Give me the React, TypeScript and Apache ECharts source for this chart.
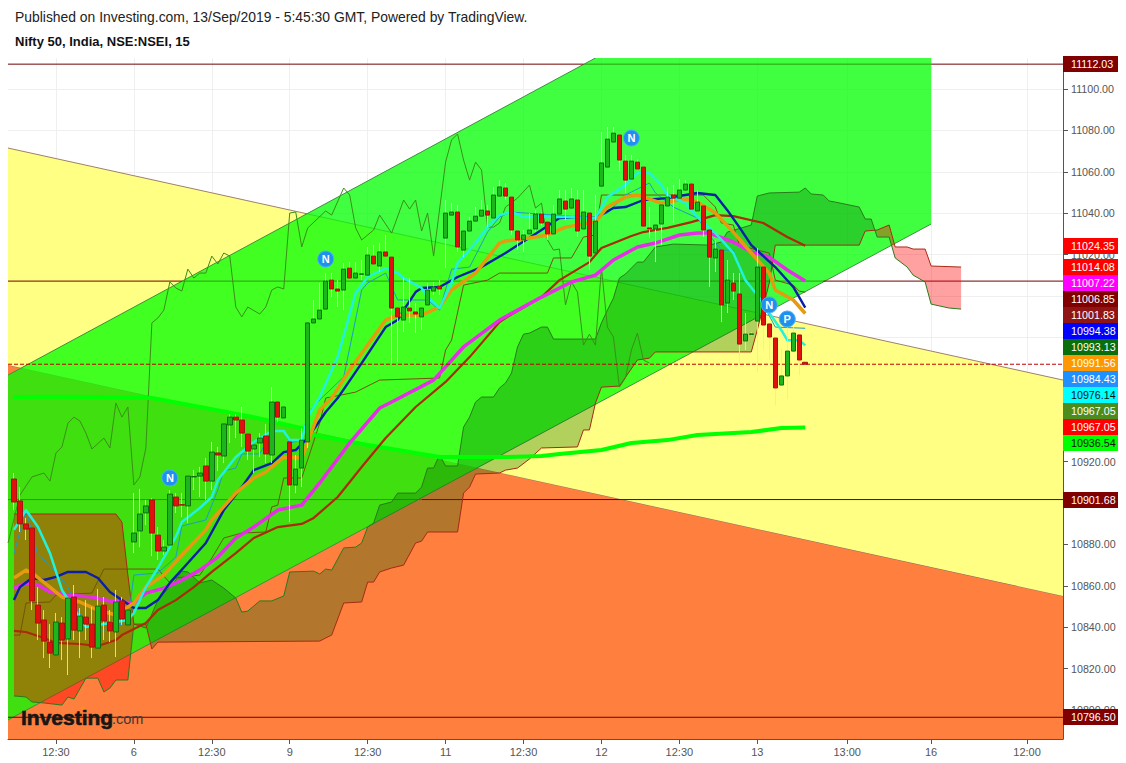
import React, { useEffect, useRef } from "react";
import * as echarts from "echarts";

type P = [number, number];

const headerLine = "Published on Investing.com, 13/Sep/2019 - 5:45:30 GMT, Powered by TradingView.";
const symbolLine = "Nifty 50, India, NSE:NSEI, 15";

const barCount = 177;
const timeLabels: Record<number, string> = {
  8: "12:30", 21: "6", 34: "12:30", 47: "9", 60: "12:30", 73: "11", 86: "12:30",
  99: "12", 112: "12:30", 125: "13", 140: "13:00", 154: "16", 170: "12:00",
};
const priceTicks = [10800, 10820, 10840, 10860, 10880, 10900, 10920, 10940, 10960, 10980, 11000, 11020, 11040, 11060, 11080, 11100];
const priceLabels = [10800, 10820, 10840, 10860, 10880, 10920, 11020, 11040, 11060, 11080, 11100];

// open, close, low, high for consecutive 15-minute bars
const ohlc: number[][] = [
  [10911.6,10900.5,10896.6,10914.5],[10901.0,10889.9,10886.0,10907.7],[10889.9,10887.4,10882.1,10892.8],[10887.9,10852.7,10848.3,10887.9],
  [10850.7,10842.0,10833.8,10859.4],[10843.5,10833.3,10825.1,10848.3],[10832.8,10827.5,10820.3,10841.5],[10826.6,10842.5,10826.6,10846.9],
  [10842.0,10833.8,10824.1,10844.9],[10834.3,10854.1,10816.9,10854.1],[10854.6,10838.6,10833.8,10860.4],[10838.2,10845.4,10825.1,10849.3],
  [10844.9,10841.5,10833.8,10853.1],[10841.5,10830.4,10825.1,10849.8],[10829.9,10850.2,10829.9,10858.5],[10850.7,10843.0,10833.8,10854.6],
  [10842.5,10838.2,10832.8,10848.3],[10837.7,10852.2,10825.6,10858.0],[10852.7,10844.0,10841.1,10854.6],[10841.1,10848.3,10841.1,10848.3],
  [10881.2,10885.5,10875.8,10904.8],[10886.5,10894.7,10878.7,10906.8],[10895.2,10898.6,10889.4,10901.5],[10901.5,10885.5,10874.4,10902.4],
  [10884.5,10876.8,10872.5,10888.4],[10876.8,10878.7,10874.9,10882.1],[10879.7,10904.3,10879.7,10906.3],[10902.9,10898.6,10895.2,10904.8],
  [10899.2,10899.0,10893.2,10904.8],[10898.6,10913.0,10890.3,10913.0],[10912.6,10912.8,10906.3,10916.0],[10913.0,10914.5,10902.9,10917.4],
  [10917.9,10910.6,10901.5,10921.7],[10910.6,10924.6,10906.3,10929.5],[10924.2,10923.2,10915.5,10927.1],[10922.7,10938.2,10919.3,10938.2],
  [10937.7,10941.5,10929.0,10943.0],[10941.5,10940.1,10931.4,10943.0],[10940.1,10933.8,10927.1,10946.4],[10933.3,10925.1,10920.8,10933.3],
  [10926.1,10928.0,10914.5,10928.0],[10929.0,10931.4,10922.2,10933.8],[10932.4,10923.7,10919.3,10938.2],[10923.2,10948.8,10919.3,10956.0],
  [10948.8,10941.5,10939.1,10948.8],[10941.1,10946.4,10941.1,10946.4],[10929.5,10908.7,10890.8,10929.5],[10908.7,10916.4,10904.8,10923.2],
  [10916.9,10930.4,10907.7,10936.2],[10929.5,10987.0,10926.6,10987.0],[10987.0,10988.9,10987.0,10998.1],[10988.9,10993.2,10988.9,11006.3],
  [10993.7,11007.2,10993.7,11011.1],[11007.7,11003.4,10999.5,11011.1],[11003.4,11002.4,10994.7,11007.7],[11002.9,11013.0,10993.2,11015.9],
  [11013.5,11008.7,11008.7,11016.4],[11008.7,11011.1,11008.7,11016.4],[11010.5,11010.7,11007.7,11017.4],[11010.1,11019.8,11010.1,11023.7],
  [11019.3,11015.5,11015.5,11024.6],[11014.5,11021.3,11011.6,11025.6],[11021.3,11019.3,11019.3,11029.5],[11018.8,10994.2,10967.6,11018.8],
  [10994.2,10989.9,10968.1,10994.2],[10988.4,10994.7,10982.6,11008.7],[10994.2,10992.8,10987.0,11008.7],[10992.3,10991.3,10982.1,10996.6],
  [10989.9,10994.2,10983.6,10994.2],[10995.7,11002.9,10995.7,11006.3],[11002.4,11004.4,11000.5,11006.8],[11004.8,11003.4,11000.5,11007.7],
  [11028.0,11040.1,11013.5,11046.4],[11039.1,11040.6,11039.1,11044.9],[11040.6,11023.7,11021.3,11044.0],[11022.2,11031.4,11018.8,11031.4],
  [11031.4,11036.2,11031.4,11038.2],[11036.2,11038.6,11036.2,11043.0],[11038.6,11041.5,11038.6,11046.4],[11041.1,11039.1,11033.3,11044.0],
  [11037.7,11048.8,11037.7,11052.7],[11048.3,11052.7,11048.3,11056.0],[11052.2,11048.3,11046.4,11054.6],[11047.8,11031.9,11029.5,11047.8],
  [11031.4,11027.1,11022.2,11031.4],[11027.1,11029.5,11021.3,11031.9],[11030.0,11031.9,11030.0,11040.1],[11032.4,11039.6,11030.9,11041.5],
  [11039.6,11035.3,11033.8,11040.6],[11035.7,11030.0,11027.1,11035.7],[11030.0,11039.6,11030.0,11044.0],[11039.6,11046.9,11039.6,11051.2],
  [11045.9,11042.0,11036.7,11051.2],[11042.5,11046.9,11042.5,11052.2],[11046.4,11031.4,11028.5,11051.2],[11032.4,11040.6,11032.4,11051.2],
  [11040.1,11019.3,11012.6,11040.1],[11020.8,11036.2,11020.8,11048.8],[11053.1,11064.3,11053.1,11079.2],[11062.3,11075.8,11062.3,11081.6],
  [11074.4,11078.7,11074.4,11081.6],[11077.8,11065.7,11060.4,11077.8],[11065.2,11056.0,11049.8,11068.1],[11056.5,11065.2,11056.5,11068.1],
  [11064.7,11061.4,11061.4,11066.0],[11062.3,11033.8,11033.8,11062.3],[11032.9,11032.4,11028.0,11043.0],[11032.4,11034.3,11016.4,11034.3],
  [11034.8,11044.0,11024.6,11044.0],[11043.5,11047.8,11043.5,11052.7],[11048.8,11047.3,11035.3,11053.6],[11047.3,11051.2,11047.3,11056.5],
  [11051.2,11054.1,11051.2,11056.0],[11054.1,11042.0,11042.0,11054.1],[11041.1,11045.4,11041.1,11051.2],[11043.5,11031.9,11028.5,11043.5],
  [11031.9,11018.8,11004.4,11031.9],[11018.4,11022.7,11011.6,11027.1],[11022.2,10995.7,10987.4,11022.2],[10996.6,11007.7,10991.8,11017.4],
  [11006.3,11002.4,10998.1,11011.1],[11001.0,10976.8,10966.7,11011.1],[10978.3,10981.6,10973.9,10991.8],[10981.5,10981.7,10981.0,10982.5],
  [10987.9,11014.0,10963.3,11023.2],[11014.0,10986.0,10973.9,11014.0],[10986.5,10980.2,10969.1,10986.5],[10979.7,10955.6,10947.3,10979.7],
  [10957.0,10961.4,10957.0,10974.9],[10961.4,10973.4,10950.2,10985.0],[10973.4,10982.1,10973.4,10985.0],[10981.2,10969.1,10961.8,10981.2],
  [10968.0,10967.05,10967.05,10968.0],
];

// each line: [bar index, price]
const cyanEma: P[] = [[1,10887],[3,10896.6],[5,10888.4],[7,10875.8],[9,10858],[13,10840.1],[17,10842],[20,10843.5],[21,10846.9],[23,10859.4],[25,10868.6],[28,10883.6],[29,10890.8],[32,10897.6],[34,10902.9],[35,10911.1],[38,10922.2],[41,10929.5],[44,10934.8],[46,10934.8],[47,10930.4],[49,10930.4],[50,10941.5],[52,10951.2],[55,10970.5],[58,11001.5],[60,11009.2],[63,11013.5],[65,11011.1],[66,11008.7],[69,11003.9],[70,10999.5],[72,10994.2],[74,11006.3],[75,11015.9],[78,11025.6],[80,11033.3],[82,11039.1],[84,11040.6],[86,11038.2],[90,11038.2],[93,11038.2],[98,11037.7],[100,11047.8],[103,11053.6],[105,11059.4],[107,11059.4],[109,11053.6],[110,11048.8],[113,11044.9],[115,11038.2],[118,11030.4],[121,11020.8],[123,11007.7],[125,11000.5],[127,10991.8],[129,10983.6],[130,10978.7],[132,10978.7],[133,10976.14]];
const tealTenkan: P[] = [[1,10875.8],[3,10896.6],[5,10874.9],[7,10870],[10,10859.4],[13,10840.1],[16,10838.6],[20,10842.5],[21,10865.2],[25,10866.2],[28,10873.9],[29,10888.9],[33,10891.8],[35,10906.3],[36,10915.5],[38,10916.9],[39,10923.7],[42,10923.7],[44,10934.8],[46,10934.8],[47,10929],[49,10930.4],[50,10943.5],[52,10949.8],[56,10960.9],[59,11002.9],[60,11006.3],[63,11011.1],[65,10998.1],[70,10998.1],[72,10993.2],[74,11013],[77,11014],[80,11030.9],[82,11038.2],[84,11040.6],[98,11037.7],[100,11040.1],[103,11048.8],[107,11054.6],[108,11049.8],[111,11043],[115,11037.7],[118,11025.6],[119,11022.2],[121,11022.2],[123,11007.7],[125,11001.5],[128,10985],[133,10984.43]];
const orangeEma: P[] = [[1,10863.8],[3,10867.6],[4,10866.2],[7,10859.4],[9,10854.6],[12,10852.2],[15,10848.3],[18,10845.9],[21,10851.7],[23,10859.4],[26,10865.2],[29,10874.9],[33,10887],[34,10891.8],[38,10904.8],[41,10912.1],[43,10915],[46,10922.2],[49,10921.7],[52,10944.9],[54,10950.7],[57,10964.3],[63,10988.4],[65,10990.8],[69,10990.8],[72,10994.7],[74,11002.9],[78,11011.1],[82,11025.6],[83,11026.6],[87,11028],[90,11029.5],[93,11033.3],[98,11035.7],[100,11043],[103,11047.8],[105,11048.8],[109,11044.9],[113,11046.9],[115,11045.4],[118,11040.1],[121,11030.9],[124,11020.8],[127,11011.1],[128,11002.9],[131,10998.1],[133,10991.56]];
const blueEma: P[] = [[1,10853.1],[2,10859.4],[4,10863.8],[6,10862.8],[8,10864.3],[10,10866.7],[13,10866.7],[15,10863.8],[17,10857],[19,10853.1],[21,10849.3],[23,10849.3],[25,10853.1],[27,10861.4],[30,10871],[33,10880.7],[36,10896.6],[39,10907.7],[41,10915.9],[44,10919.3],[46,10924.6],[48,10925.6],[50,10931.4],[53,10944],[55,10950.7],[59,10967.6],[63,10985],[65,10988.4],[66,10993.2],[68,11001.9],[69,11003.9],[72,11004.4],[75,11009.2],[79,11014],[83,11020.8],[89,11031.9],[92,11037.7],[95,11038.2],[98,11037.7],[101,11042.5],[103,11043],[106,11046.4],[110,11047.3],[113,11048.8],[115,11049.8],[118,11048.8],[120,11041.5],[122,11033.3],[124,11024.6],[128,11014],[131,11004.4],[133,10994.38]];
const magentaEma: P[] = [[1,10858.9],[3,10861.4],[5,10860.4],[7,10857],[10,10855.6],[14,10854.6],[17,10852.7],[21,10851.7],[23,10856.5],[26,10858.9],[29,10862.8],[32,10867.6],[35,10873.9],[38,10883.1],[41,10888.4],[45,10896.6],[49,10899],[52,10909.7],[57,10929],[62,10945.9],[64,10948.8],[71,10959.4],[76,10975.4],[82,10988.4],[85,10993.2],[89,10999.5],[94,11006.8],[98,11010.1],[101,11017.4],[105,11023.7],[108,11025.6],[112,11029.5],[115,11030.4],[117,11030.4],[121,11026.1],[124,11021.3],[127,11018.8],[130,11012.6],[133,11007.22]];
const redEma: P[] = [[1,10838.2],[3,10837.7],[6,10834.8],[8,10832.4],[12,10831.9],[15,10830.9],[18,10833.8],[19,10836.2],[23,10842],[25,10848.3],[28,10853.1],[31,10859.4],[34,10866.7],[38,10875.8],[41,10883.1],[45,10888.4],[49,10889.9],[51,10892.8],[55,10902.9],[59,10917.4],[63,10931.4],[68,10946.4],[73,10958.5],[77,10970.5],[82,10987.4],[83,10989.4],[89,10999.5],[92,11007.7],[97,11016.4],[99,11023.2],[104,11029],[106,11030.9],[110,11032.9],[114,11035.7],[118,11039.1],[121,11038.6],[126,11035.3],[130,11028.5],[133,11024.35]];
const greenSma: P[] = [[1,10951.2],[7,10951.4],[16,10951.2],[24,10950.7],[32,10946.4],[41,10941.5],[49,10936.2],[51,10932.9],[60,10928],[65,10925.6],[72,10922.2],[77,10922.2],[83,10922.2],[89,10922.7],[92,10923.7],[99,10925.6],[104,10929],[110,10930.4],[115,10932.9],[124,10934.3],[129,10936.2],[133,10936.54]];
const kijun: P[] = [[1,10836.2],[2,10836.2],[3,10851.7],[7,10852.2],[8,10855.6],[14,10856.5],[16,10868.1],[25,10868.1],[27,10861.4],[28,10863.8],[32,10865.2],[34,10873.4],[36,10883.1],[39,10885.5],[43,10886],[44,10898.1],[45,10899],[46,10912.1],[49,10912.1],[52,10938.6],[53,10950.7],[58,10953.6],[62,10959.4],[72,10960.4],[73,10973.9],[74,10978.7],[76,11005.3],[80,11007.7],[82,11011.1],[90,11011.1],[91,11018.4],[94,11018.4],[96,11028.5],[98,11029.5],[99,11048.8],[116,11048.8],[118,11043],[119,11035.3],[121,11034.3],[122,11024.6],[125,11022.2],[127,11020.8],[128,11007.7],[131,11005.3],[132,11002.4],[133,11001.83]];
const chikou: P[] = [[0,10880.7],[2,10903.9],[4,10912.6],[6,10914.5],[7,10910.6],[8,10924.2],[9,10927.1],[10,10938.6],[11,10941.5],[12,10939.6],[13,10933.8],[14,10926.1],[16,10931.4],[17,10926.6],[18,10948.3],[19,10941.5],[20,10946.4],[21,10908.7],[22,10912.6],[23,10926.6],[24,10987],[25,10989.4],[26,10993.2],[27,11006.8],[28,11003.9],[29,11002.4],[30,11013],[31,11008.7],[32,11011.1],[33,11011.1],[34,11019.3],[35,11015.5],[36,11020.8],[37,11019.3],[38,10994.7],[39,10989.9],[40,10994.7],[42,10991.3],[43,10994.7],[44,11002.9],[45,11004.4],[46,11003.4],[47,11040.1],[48,11040.6],[49,11023.7],[50,11032.9],[53,11041.1],[54,11039.1],[56,11052.2],[57,11048.8],[58,11032.9],[59,11027.1],[61,11031.9],[62,11039.1],[64,11030.4],[66,11046.4],[67,11042],[68,11046.4],[69,11031.4],[70,11040.1],[71,11019.3],[73,11064.7],[74,11075.4],[75,11078.3],[76,11065.7],[77,11056],[78,11064.7],[79,11060.9],[80,11033.3],[81,11033.3],[82,11035.3],[83,11043],[85,11047.3],[87,11053.6],[88,11042.5],[89,11044.9],[90,11027.1],[91,11022.2],[92,11022.7],[93,10995.7],[94,11006.8],[95,11001.9],[96,10976.3],[97,10981.6],[98,10976.3],[99,11013.5],[100,10985],[101,10980.2],[102,10956],[103,10960.4],[104,10973.9],[105,10982.1],[106,10969.1],[107,10967.6]];
const spanA: P[] = [[1,10806.8],[3,10806.3],[4,10803.9],[6,10803.4],[9,10802.4],[10,10806.3],[11,10805.3],[13,10815.4],[15,10815.4],[16,10808.7],[17,10810.6],[18,10814.5],[20,10814.5],[21,10841.5],[23,10839.6],[25,10853.1],[28,10862.8],[29,10867.1],[30,10866.7],[32,10861.4],[34,10862.8],[36,10858.9],[38,10854.1],[39,10847.3],[40,10847.8],[42,10852.7],[44,10852.7],[46,10855.1],[47,10866.7],[51,10867.1],[52,10865.7],[53,10868.1],[54,10867.6],[56,10878.3],[58,10878.7],[59,10880.7],[60,10888.4],[61,10890.3],[62,10899],[64,10900.5],[65,10904.8],[68,10904.8],[69,10907.7],[70,10916.9],[71,10916.9],[72,10923.2],[73,10917.9],[75,10917.9],[76,10936.7],[77,10941.5],[78,10948.8],[79,10951.2],[81,10951.2],[82,10955.6],[83,10958],[84,10962.8],[85,10975.4],[86,10981.6],[87,10982.1],[89,10985],[90,10985],[91,10979.2],[98,10979.2],[99,10987],[100,10993.2],[101,10999],[102,11008.7],[103,11010.6],[105,11016.4],[106,11016.4],[108,11023.7],[111,11025.1],[117,11024.6],[119,11026.1],[120,11030.9],[124,11034.3],[125,11048.3],[127,11049.8],[132,11050.2],[133,11052.2],[134,11049.3],[136,11048.8],[137,11045.9],[138,11045.4],[142,11043],[143,11037.2],[144,11037.2],[145,11028.5],[147,11028.5],[148,11018.4],[150,11014],[151,11010.1],[153,11006.8],[154,10996.1],[157,10994.2],[159,10993.7]];
const spanB: P[] = [[1,10894.7],[18,10894.7],[19,10890.8],[20,10865.2],[21,10841.5],[23,10841.5],[24,10829.5],[25,10832.8],[52,10833.3],[53,10834.8],[54,10836.2],[56,10851.7],[59,10852.2],[60,10861.8],[61,10861.8],[62,10866.7],[64,10868.6],[66,10870],[68,10880.7],[69,10881.6],[70,10886],[75,10886],[76,10904.8],[77,10907.7],[78,10914],[82,10914.5],[83,10915.9],[85,10916.9],[87,10921.3],[89,10926.6],[95,10927.1],[96,10935.3],[97,10935.3],[98,10948.3],[99,10956],[102,10956.5],[105,10969.1],[107,10970],[108,10973],[124,10973],[125,10983.6],[127,11006.3],[128,11024.6],[142,11024.6],[143,11031.4],[145,11031.9],[147,11034.3],[148,11023.7],[150,11023.7],[151,11022.7],[153,11022.7],[154,11014.5],[159,11014]];

// trend-channel corners: [bar index, price]
const yMax = 11115;
const yMin = 10786;
const yellowZone: P[] = [[0,11071.5],[176,10959.4],[176,10855.1],[0,10966.7]];
const orangeZone: P[] = [[0,10966.7],[176,10855.1],[176,yMin],[0,yMin]];
const greenChannel: P[] = [[0,10961.8],[98,yMax],[154,yMax],[154,11034.8],[0,10795.2]];

// horizontal levels: [price, first bar, last bar]; inside the green channel they show through it
const levelsOutside: number[][] = [[11112.03,0,96],[11112.03,154,176],[11007.22,0,29],[11007.22,136,176],[10901.68,69,176],[10796.5,0,176]];
const levelsInside: number[][] = [[11112.03,96,154],[11007.22,29,136],[10901.68,0,69]];
const dashedLevel = 10967.05;

const signalBars = [27, 53, 104, 127, 130];
const signalPrices = [10912.1, 11017.9, 11076.3, 10995.7, 10988.9];
const signalLetters = ["N", "N", "N", "N", "P"];

const tagTexts = ["11112.03","11024.35","11014.08","11007.22","11006.85","11001.83","10994.38","10993.13","10991.56","10984.43","10976.14","10967.05","10967.05","10936.54","10901.68","10796.50"];
const tagFills = ["#800000","#ff0000","#ff0000","#ff00ff","#800000","#8f1515","#0000ff","#0a6e0a","#ff9800","#1e90ff","#00ffff","#4c8c1c","#ff0000","#00ff00","#800000","#800000"];
const tagInk = ["#fff","#fff","#fff","#fff","#fff","#fff","#fff","#fff","#fff","#fff","#111","#fff","#fff","#111","#fff","#fff"];
const tagCentres = [64,246,267,283,299,315,331,347,363,379,395,411,427,443,500,717];

const FONT = '"Liberation Sans", Arial, sans-serif';

function poly(name: string, points: P[], fill: string, edges: P[][] = [], edgeColor = "#888") {
  return {
    type: "custom", name, coordinateSystem: "cartesian2d", clip: true, silent: true,
    encode: { x: 0, y: 1 },
    data: [[points[0][0], points[0][1]]],
    renderItem: (_: any, api: any) => ({
      type: "group",
      children: [
        { type: "polygon", shape: { points: points.map((p) => api.coord(p)) }, style: { fill } },
        ...edges.map((e) => ({
          type: "polyline",
          shape: { points: e.map((p) => api.coord(p)) },
          style: { stroke: edgeColor, lineWidth: 1, fill: "none" },
        })),
      ],
    }),
  };
}

function line(name: string, data: P[], color: string, width: number, type = "solid") {
  return {
    type: "line", name, data, symbol: "none", showSymbol: false, silent: true,
    lineStyle: { color, width, type, join: "round" }, emphasis: { disabled: true },
  };
}

const between = (arr: P[], lo: number, hi: number) => arr.filter((p) => p[0] >= lo && p[0] <= hi);
const cloud = (name: string, lo: number, hi: number, fill: string) =>
  poly(name, [...between(spanA, lo, hi), ...between(spanB, lo, hi).reverse()], fill);
const levelLine = (l: number[], color: string) => line(`Level ${l[0]} ${l[1]}`, [[l[1], l[0]], [l[2], l[0]]], color, 1);

export default function App() {
  const ref = useRef<HTMLDivElement>(null);
  useEffect(() => {
    const chart = echarts.init(ref.current!, undefined, { renderer: "svg" });
    const categories = Array.from({ length: barCount }, (_, i) => timeLabels[i] ?? "");
    const marked = (_: number, v: string) => v !== "";
    const gap = ["-", "-", "-", "-"];
    const wickRows = [gap, ...ohlc];
    const bodyRows = [gap, ...ohlc.map((c) => [c[0], c[1], Math.min(c[0], c[1]), Math.max(c[0], c[1])])];

    const tagGraphics: any[] = [];
    tagTexts.forEach((t, i) => {
      tagGraphics.push({ type: "rect", z: 100, shape: { x: 1063, y: tagCentres[i] - 8, width: 55, height: 16 }, style: { fill: tagFills[i] } });
      tagGraphics.push({ type: "text", z: 101, x: 1071, y: tagCentres[i], style: { text: t, fill: tagInk[i], font: `10.7px ${FONT}`, textVerticalAlign: "middle" } });
    });

    const series: any[] = [
      poly("Lower zone", orangeZone, "#ff7f3f", [[orangeZone[0], orangeZone[1]]], "#8f7060"),
      poly("Upper zone", yellowZone, "rgba(255,255,128,0.97)", [[yellowZone[0], yellowZone[1]]], "#a07f6a"),
      poly("Rising channel", greenChannel, "rgba(0,255,0,0.75)", [[greenChannel[0], greenChannel[1]], [greenChannel[3], greenChannel[4]]], "#3f8f3f"),
      ...levelsOutside.map((l) => levelLine(l, "#700000")),
      ...levelsInside.map((l) => levelLine(l, "#2c9a12")),
      cloud("Cloud bear 1", 1, 21, "rgba(255,0,0,0.42)"),
      cloud("Cloud bull", 21, 145, "rgba(0,100,0,0.3)"),
      cloud("Cloud bear 2", 145, 159, "rgba(255,0,0,0.37)"),
      line("Span A", spanA, "#2a7a1c", 1),
      line("Span B", spanB, "#a82a14", 1),
      line("Chikou", chikou, "#3a8f18", 1),
      line("Kijun", kijun, "#75520f", 1),
      line("Tenkan", tealTenkan, "#1c9dc8", 1),
      line("EMA 200", greenSma, "#00ff00", 4),
      line("EMA red", redEma, "#ad2a08", 2.2),
      line("EMA magenta", magentaEma, "#e62ee6", 3.5),
      line("EMA blue", blueEma, "#0a1fa8", 2.4),
      line("EMA orange", orangeEma, "#e69a10", 3.5),
      line("EMA cyan", cyanEma, "#22f2dc", 2.5),
      line("Last close", [[0, dashedLevel], [176, dashedLevel]], "#c00000", 1, "dashed"),
      {
        type: "candlestick", name: "Wicks", data: wickRows, barWidth: 1, silent: true,
        itemStyle: { color: "rgba(240,225,215,0.85)", color0: "rgba(240,225,215,0.85)", borderColor: "rgba(240,225,215,0.85)", borderColor0: "rgba(240,225,215,0.85)", borderWidth: 1 },
      },
      {
        type: "candlestick", name: "Nifty 50", data: bodyRows, barWidth: 5, silent: true,
        itemStyle: { color: "#1cb51c", color0: "#e0100c", borderColor: "#0f6e12", borderColor0: "#a81210", borderWidth: 1 },
      },
      {
        type: "scatter", name: "Signals", silent: true, symbol: "circle", symbolSize: 16,
        data: signalBars.map((b, i) => ({ value: [b, signalPrices[i]], letter: signalLetters[i] })),
        itemStyle: { color: "#1e90ee", borderColor: "#4ab2f5", borderWidth: 1, opacity: 1 },
        label: { show: true, position: "inside", color: "#fff", fontFamily: FONT, fontWeight: "bold", fontSize: 11, formatter: (p: any) => p.data.letter },
      },
    ];
    series.forEach((s, i) => { s.z = 3 + i; });

    chart.setOption({
      animation: false,
      backgroundColor: "#ffffff",
      grid: { left: 8, right: 63, top: 58, bottom: 24, containLabel: false },
      xAxis: {
        type: "category", data: categories, boundaryGap: false,
        axisLine: { lineStyle: { color: "#555", width: 1 } },
        axisTick: { show: true, interval: marked, length: 5, lineStyle: { color: "#555" } },
        axisLabel: { interval: marked, color: "#555", fontFamily: FONT, fontSize: 11, margin: 7 },
        splitLine: { show: true, interval: marked, lineStyle: { color: "#efefef", width: 1 } },
      },
      yAxis: {
        type: "value", position: "right", min: yMin, max: yMax, scale: true,
        axisLine: { show: true, lineStyle: { color: "#555", width: 1 } },
        axisTick: { show: true, length: 5, customValues: priceTicks, lineStyle: { color: "#555" } },
        axisLabel: { color: "#555", fontFamily: FONT, fontSize: 10.7, margin: 8, customValues: priceLabels, formatter: (v: number) => v.toFixed(2) },
        splitLine: { show: true, lineStyle: { color: "#efefef", width: 1 } },
      },
      series,
      graphic: [
        { type: "text", z: 100, x: 15, y: 17, style: { text: headerLine, fill: "#222", font: `13.9px ${FONT}`, textVerticalAlign: "middle" } },
        { type: "text", z: 100, x: 15, y: 41, style: { text: symbolLine, fill: "#111", font: `bold 13px ${FONT}`, textVerticalAlign: "middle" } },
        { type: "text", z: 100, x: 21, y: 717, style: { text: "Investing", fill: "#161616", font: `bold 21px ${FONT}`, textVerticalAlign: "middle", stroke: "#161616", lineWidth: 0.6 } },
        { type: "text", z: 100, x: 112, y: 719, style: { text: ".com", fill: "#3a3a3a", font: `14.5px ${FONT}`, textVerticalAlign: "middle" } },
        { type: "circle", z: 100, shape: { cx: 83, cy: 708, r: 1.8 }, style: { fill: "#f7941d" } },
        ...tagGraphics,
      ],
    });
    return () => chart.dispose();
  }, []);
  return <div ref={ref} style={{ position: "absolute", left: 0, top: 0, width: 1126, height: 763 }} />;
}
